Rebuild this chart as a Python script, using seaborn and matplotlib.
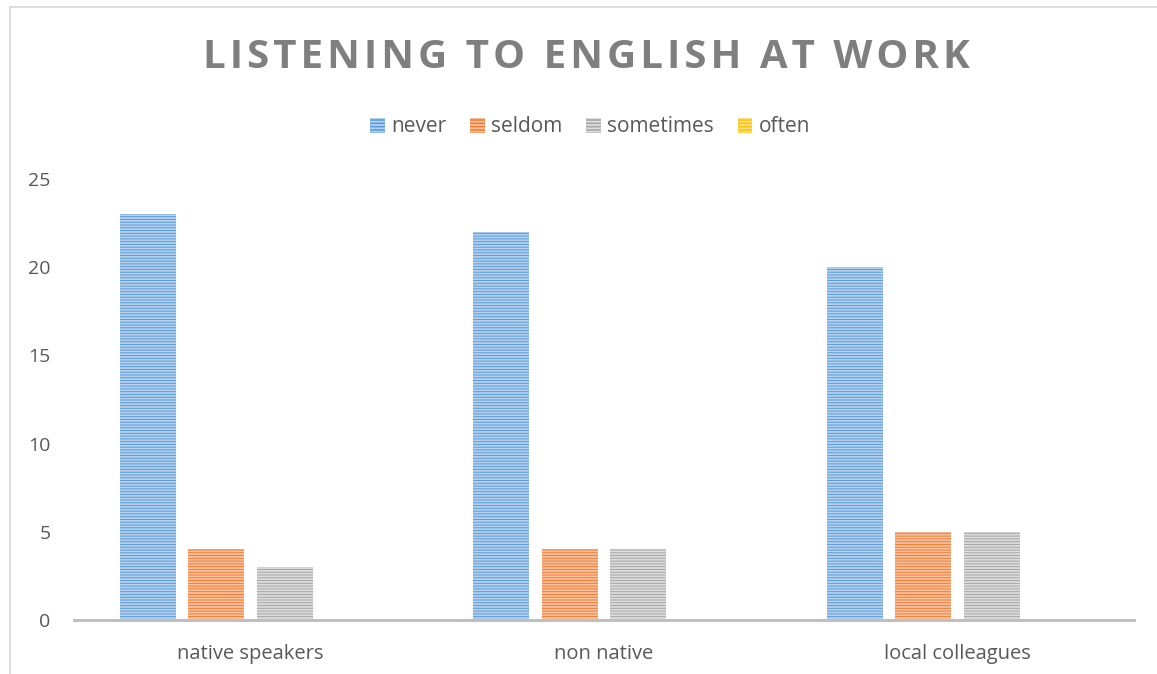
import matplotlib
matplotlib.use("Agg")
import matplotlib.pyplot as plt
import matplotlib.patches as mpatches
from matplotlib.lines import Line2D
import seaborn as sns
import pandas as pd

categories = ["native speakers", "non native", "local colleagues"]
series = ["never", "seldom", "sometimes", "often"]
never = [23, 22, 20]
seldom = [4, 4, 5]
sometimes = [3, 4, 5]
often = [0, 0, 0]
yticks = [0, 5, 10, 15, 20, 25]
title = "LISTENING TO ENGLISH AT WORK"

colors = ["#5B9BD5", "#ED7D31", "#A5A5A5", "#FFC000"]
stripe = ["#B3D1EE", "#F8C09E", "#DCDCDC", "#FFE08A"]

rows = []
for name, vals in zip(series, [never, seldom, sometimes, often]):
    for c, v in zip(categories, vals):
        rows.append({"category": c, "series": name, "value": v})
df = pd.DataFrame(rows)

sns.set_theme(style="white")
plt.rcParams["font.family"] = ["Open Sans", "DejaVu Sans"]
plt.rcParams["hatch.linewidth"] = 1.3

fig = plt.figure(figsize=(11.57, 6.74), dpi=100)
ax = fig.add_axes([74 / 1157, 1 - 620 / 674, (1134 - 74) / 1157, (620 - 179) / 674])

sns.barplot(data=df, x="category", y="value", hue="series", hue_order=series,
            order=categories, palette=colors, width=0.776, gap=0.183,
            ax=ax, legend=False, saturation=1)

for i, name in enumerate(series):
    for bar in ax.containers[i]:
        bar.set_edgecolor(stripe[i])
        bar.set_hatch("------")
        bar.set_linewidth(0)

ax.set_ylim(0, 25)
ax.set_xlim(-0.5, 2.5)
ax.set_yticks(yticks)
ax.set_xlabel("")
ax.set_ylabel("")
ax.tick_params(axis="y", length=0, pad=17, labelsize=14, labelcolor="#595959")
ax.tick_params(axis="x", length=0, pad=17, labelsize=14.5, labelcolor="#595959")
for s in ["left", "right", "top"]:
    ax.spines[s].set_visible(False)
ax.spines["bottom"].set_color("#BFBFBF")
ax.spines["bottom"].set_linewidth(2.2)

handles = [mpatches.Patch(facecolor=c, edgecolor=s, hatch="-----", linewidth=0, label=n)
           for c, s, n in zip(colors, stripe, series)]
fig.legend(handles=handles, loc="center", bbox_to_anchor=(590 / 1157, 1 - 127 / 674),
           ncol=4, frameon=False, fontsize=15, labelcolor="#595959",
           handlelength=0.7, handleheight=0.7, handletextpad=0.3, columnspacing=1.15)

spaced_title = "\u200a".join(title)
fig.text(586 / 1157, 1 - 58 / 674, spaced_title, ha="center", va="center",
         fontsize=29, fontweight="bold", color="#7F7F7F")

fig.add_artist(Line2D([9.5 / 1157, 9.5 / 1157], [0, 1 - 6.5 / 674], color="#D9D9D9", lw=1.2,
                      transform=fig.transFigure))
fig.add_artist(Line2D([9.5 / 1157, 1], [1 - 6.5 / 674, 1 - 6.5 / 674], color="#D9D9D9", lw=1.2,
                      transform=fig.transFigure))

fig.savefig("out.png", dpi=100)
